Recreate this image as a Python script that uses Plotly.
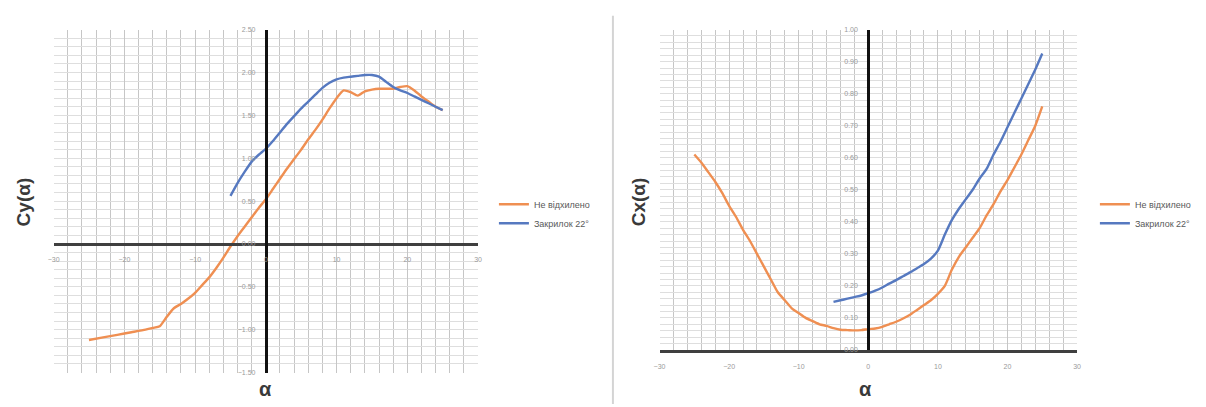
import plotly.graph_objects as go

# ---- Lift coefficient Cy(α) ----
alpha_cy_base = [-25, -23, -21, -19, -17, -16, -15, -14, -13, -12, -11, -10, -9, -8, -7, -6,
                 -5, -4, -3, -2, -1, 0, 1, 2, 3, 4, 5, 6, 7, 8, 9, 10, 11, 12, 13, 14,
                 15, 16, 17, 18, 19, 20, 21, 22, 23, 24, 25]
cy_base = [-1.12, -1.09, -1.06, -1.03, -1.00, -0.98, -0.96, -0.85, -0.75, -0.70, -0.64, -0.57,
           -0.48, -0.39, -0.28, -0.16, -0.03, 0.09, 0.20, 0.31, 0.42, 0.52, 0.64, 0.76, 0.88,
           0.99, 1.10, 1.22, 1.33, 1.45, 1.58, 1.70, 1.79, 1.77, 1.73, 1.78, 1.80, 1.81, 1.81,
           1.81, 1.83, 1.84, 1.79, 1.72, 1.66, 1.60, 1.56]

alpha_cy_flap = [-5, -4, -3, -2, -1, 0, 1, 2, 3, 4, 5, 6, 7, 8, 9, 10, 11, 12, 13, 14, 15,
                 16, 17, 18, 19, 20, 21, 22, 23, 24, 25]
cy_flap = [0.56, 0.71, 0.84, 0.96, 1.04, 1.11, 1.20, 1.30, 1.40, 1.49, 1.58, 1.66, 1.74,
           1.82, 1.88, 1.92, 1.94, 1.95, 1.96, 1.97, 1.97, 1.95, 1.89, 1.83, 1.79, 1.76,
           1.72, 1.68, 1.64, 1.60, 1.56]

# ---- Drag coefficient Cx(α) ----
alpha_cx_base = [-25, -24, -23, -22, -21, -20, -19, -18, -17, -16, -15, -14, -13, -12, -11,
                 -10, -9, -8, -7, -6, -5, -4, -3, -2, -1, 0, 1, 2, 3, 4, 5, 6, 7, 8, 9, 10,
                 11, 12, 13, 14, 15, 16, 17, 18, 19, 20, 21, 22, 23, 24, 25]
cx_base = [0.61, 0.585, 0.555, 0.525, 0.49, 0.45, 0.415, 0.375, 0.34, 0.30, 0.26, 0.22, 0.18,
           0.155, 0.13, 0.115, 0.10, 0.09, 0.08, 0.075, 0.068, 0.063, 0.062, 0.061, 0.062,
           0.065, 0.067, 0.072, 0.08, 0.088, 0.098, 0.11, 0.125, 0.14, 0.155, 0.175, 0.20,
           0.25, 0.29, 0.32, 0.35, 0.38, 0.42, 0.455, 0.495, 0.53, 0.57, 0.61, 0.655, 0.70,
           0.76]

alpha_cx_flap = [-5, -4, -3, -2, -1, 0, 1, 2, 3, 4, 5, 6, 7, 8, 9, 10, 11, 12, 13, 14, 15,
                 16, 17, 18, 19, 20, 21, 22, 23, 24, 25]
cx_flap = [0.15, 0.155, 0.16, 0.165, 0.17, 0.177, 0.185, 0.195, 0.207, 0.218, 0.23, 0.242,
           0.255, 0.268, 0.285, 0.31, 0.36, 0.405, 0.44, 0.47, 0.50, 0.535, 0.565, 0.61,
           0.65, 0.695, 0.74, 0.785, 0.83, 0.875, 0.925]

series_names = ["Не відхилено", "Закрилок 22°"]
x_range = [-30, 30]
cy_range = [-1.5, 2.5]
cx_range = [0.0, 1.0]

W, H = 1206, 407
ORANGE = "#EF8F52"
BLUE = "#5679C0"
GRID_V = "#c6c6c6"
GRID_H = "#dedede"
TICK_FONT = dict(family="Liberation Sans, Arial, sans-serif", size=7, color="#9a9a9a")
LEG_FONT = dict(family="Liberation Sans, Arial, sans-serif", size=9, color="#595959")


def px_dom_x(a, b):
    return [a / W, b / W]


def px_dom_y(top, bottom):
    return [(H - bottom) / H, (H - top) / H]


xdom_l = px_dom_x(48, 476)
ydom_l = px_dom_y(26, 375)
xdom_r = px_dom_x(659, 1080)
ydom_r = px_dom_y(26, 352)


def zero_pos(dom, rng):
    f = (0 - rng[0]) / (rng[1] - rng[0])
    return dom[0] + f * (dom[1] - dom[0])


def curve(x, y, name, color, xa, ya, leg):
    return go.Scatter(x=x, y=y, name=name, mode="lines",
                      line=dict(color=color, width=2.4, shape="spline", smoothing=0.6),
                      xaxis=xa, yaxis=ya, legend=leg)


fig = go.Figure()
fig.add_trace(curve(alpha_cy_base, cy_base, series_names[0], ORANGE, "x", "y", "legend"))
fig.add_trace(curve(alpha_cy_flap, cy_flap, series_names[1], BLUE, "x", "y", "legend"))
fig.add_trace(curve(alpha_cx_base, cx_base, series_names[0], ORANGE, "x2", "y2", "legend2"))
fig.add_trace(curve(alpha_cx_flap, cx_flap, series_names[1], BLUE, "x2", "y2", "legend2"))

common_x = dict(range=x_range, dtick=10, tick0=0, showgrid=True, gridcolor=GRID_V, gridwidth=1,
                minor=dict(dtick=2, showgrid=True, gridcolor=GRID_V, gridwidth=1),
                zeroline=False, showline=True, linewidth=3, linecolor="#3f3f3f",
                ticks="outside", ticklen=8, tickcolor="rgba(0,0,0,0)",
                tickfont=TICK_FONT, fixedrange=True)
common_y = dict(showgrid=True, gridcolor=GRID_H, gridwidth=1, tickformat=".2f",
                zeroline=False, showline=True, linewidth=3, linecolor="#111111",
                ticks="outside", ticklen=8, tickcolor="rgba(0,0,0,0)",
                tickfont=TICK_FONT, fixedrange=True)

fig.update_layout(
    width=W, height=H,
    margin=dict(l=0, r=0, t=0, b=0),
    paper_bgcolor="white", plot_bgcolor="white",
    xaxis=dict(common_x, domain=xdom_l, anchor="free",
               position=zero_pos(ydom_l, cy_range)),
    yaxis=dict(common_y, domain=ydom_l, range=cy_range, dtick=0.5, tick0=0,
               minor=dict(dtick=0.1, showgrid=True, gridcolor=GRID_H, gridwidth=1),
               anchor="free", position=zero_pos(xdom_l, x_range)),
    xaxis2=dict(common_x, domain=xdom_r, anchor="y2"),
    yaxis2=dict(common_y, domain=ydom_r, range=cx_range, dtick=0.1, tick0=0,
                minor=dict(dtick=0.02, showgrid=True, gridcolor=GRID_H, gridwidth=1),
                anchor="free", position=zero_pos(xdom_r, x_range)),
    legend=dict(x=492 / W, y=(H - 189) / H, xanchor="left", yanchor="top",
                font=LEG_FONT, bgcolor="rgba(0,0,0,0)", itemwidth=30),
    legend2=dict(x=1098 / W, y=(H - 189) / H, xanchor="left", yanchor="top",
                 font=LEG_FONT, bgcolor="rgba(0,0,0,0)", itemwidth=30),
    showlegend=True,
)

title_font = dict(family="Liberation Sans, Arial, sans-serif", size=19, color="#3a3a3a")
alpha_font = dict(family="Liberation Sans, Arial, sans-serif", size=20, color="#3a3a3a")
annotations = [
    dict(text="<b>Cy(α)</b>", x=18 / W, y=(H - 201) / H, textangle=-90, font=title_font),
    dict(text="<b>α</b>", x=262 / W, y=(H - 392) / H, font=alpha_font),
    dict(text="<b>Cx(α)</b>", x=638 / W, y=(H - 201) / H, textangle=-90, font=title_font),
    dict(text="<b>α</b>", x=867 / W, y=(H - 392) / H, font=alpha_font),
]
for a in annotations:
    a.update(xref="paper", yref="paper", showarrow=False, xanchor="center", yanchor="middle")
fig.update_layout(annotations=annotations)

# divider between the two panels
fig.add_shape(type="line", xref="paper", yref="paper", x0=612 / W, x1=612 / W,
              y0=0, y1=(H - 12) / H, line=dict(color="#d4d4d4", width=2))

fig.write_html("out.html")
